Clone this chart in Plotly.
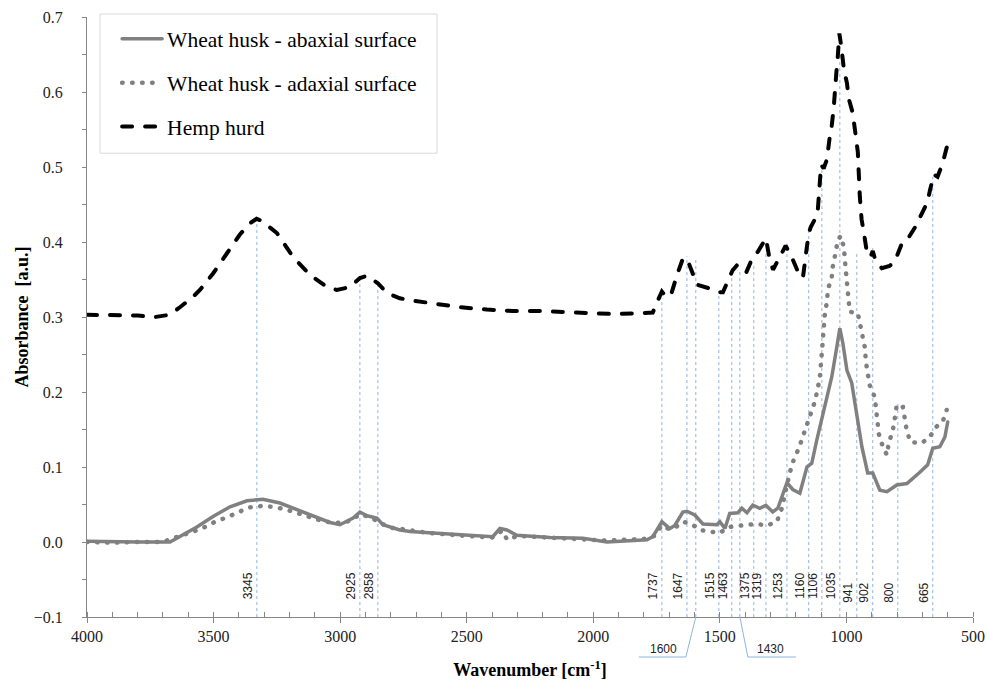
import plotly.graph_objects as go

# ---------------- data ----------------
hemp_wn = [4000, 3900, 3800, 3731, 3672, 3633, 3581, 3554, 3502, 3447, 3396, 3356, 3330, 3309,
           3250, 3186, 3119, 3052, 3013, 2961, 2922, 2894, 2851, 2815, 2764, 2736, 2634, 2527,
           2420, 2317, 2211, 2132, 2041, 1923, 1816, 1777, 1765, 1745, 1729, 1710, 1690, 1670,
           1646, 1630, 1610, 1590, 1540, 1500, 1488, 1468, 1450, 1430, 1410, 1395, 1370, 1350,
           1318, 1305, 1290, 1265, 1240, 1215, 1195, 1172, 1160, 1150, 1141, 1125, 1113, 1100,
           1090, 1077, 1066, 1058, 1050, 1046, 1040, 1034, 1028, 1020, 1010, 998, 990, 975, 965,
           955, 947, 940, 930, 920, 905, 896, 885, 860, 830, 810, 780, 760, 730, 710, 680, 670,
           655, 640, 620, 603]
hemp_ab = [0.303, 0.303, 0.302, 0.300, 0.303, 0.313, 0.327, 0.336, 0.358, 0.385, 0.410, 0.425, 0.431, 0.428,
           0.412, 0.380, 0.356, 0.340, 0.336, 0.340, 0.352, 0.355, 0.345, 0.332, 0.325, 0.323, 0.318, 0.313,
           0.310, 0.308, 0.308, 0.307, 0.305, 0.304, 0.305, 0.305, 0.306, 0.322, 0.334, 0.326, 0.333, 0.355,
           0.378, 0.378, 0.360, 0.343, 0.338, 0.333, 0.333, 0.347, 0.362, 0.370, 0.365, 0.360, 0.380, 0.387,
           0.405, 0.380, 0.363, 0.380, 0.395, 0.379, 0.363, 0.352, 0.390, 0.410, 0.420, 0.430, 0.443, 0.503,
           0.498, 0.510, 0.540, 0.555, 0.580, 0.607, 0.625, 0.648, 0.678, 0.660, 0.630, 0.612, 0.590, 0.572, 0.545,
           0.520, 0.460, 0.430, 0.410, 0.388, 0.380, 0.388, 0.375, 0.365, 0.368, 0.373, 0.399, 0.403, 0.419, 0.433,
           0.453, 0.469, 0.490, 0.487, 0.505, 0.527]

abax_wn = [4000, 3900, 3800, 3672, 3633, 3566, 3502, 3435, 3368, 3305, 3238, 3171, 3107, 3040, 3001,
           2949, 2922, 2894, 2855, 2831, 2764, 2724, 2634, 2500, 2397, 2369, 2341, 2302, 2171, 2041,
           1946, 1788, 1765, 1729, 1698, 1678, 1646, 1630, 1599, 1567, 1512, 1500, 1480, 1461, 1429,
           1413, 1393, 1370, 1342, 1318, 1291, 1271, 1235, 1212, 1184, 1156, 1137, 1117, 1097, 1077,
           1058, 1038, 1026, 1014, 998, 979, 959, 939, 916, 896, 868, 840, 801, 761, 710, 679, 659,
           631, 611, 600]
abax_ab = [0.001, 0.000, 0.000, 0.000, 0.007, 0.020, 0.034, 0.047, 0.055, 0.057, 0.052, 0.043, 0.034, 0.026, 0.023,
           0.032, 0.040, 0.035, 0.032, 0.023, 0.016, 0.014, 0.012, 0.009, 0.007, 0.018, 0.016, 0.009, 0.006, 0.005,
           0.000, 0.003, 0.007, 0.027, 0.018, 0.022, 0.040, 0.041, 0.036, 0.024, 0.023, 0.027, 0.018, 0.038, 0.039,
           0.045, 0.039, 0.049, 0.045, 0.049, 0.040, 0.045, 0.079, 0.070, 0.065, 0.100, 0.105, 0.136, 0.163, 0.190,
           0.220, 0.260, 0.285, 0.265, 0.229, 0.212, 0.172, 0.127, 0.092, 0.092, 0.069, 0.067, 0.076, 0.078, 0.093,
           0.103, 0.125, 0.127, 0.140, 0.160]

adax_wn = [4000, 3900, 3800, 3700, 3660, 3620, 3580, 3540, 3500, 3440, 3400, 3360, 3310, 3270, 3220,
           3150, 3070, 3020, 2960, 2922, 2880, 2840, 2800, 2750, 2650, 2500, 2400, 2360, 2340, 2300,
           2200, 2050, 1950, 1800, 1760, 1729, 1700, 1678, 1646, 1611, 1579, 1540, 1500, 1465, 1425,
           1389, 1354, 1314, 1275, 1255, 1224, 1208, 1188, 1172, 1156, 1137, 1125, 1113, 1105, 1097,
           1093, 1085, 1077, 1073, 1058, 1054, 1042, 1034, 1022, 1010, 1006, 1002, 998, 995, 987, 955,
           947, 935, 927, 923, 916, 908, 888, 884, 880, 872, 856, 840, 833, 817, 809, 801, 777, 769,
           761, 746, 702, 671, 647, 619, 604]
adax_ab = [0.000, -0.001, 0.000, 0.000, 0.005, 0.009, 0.014, 0.019, 0.026, 0.034, 0.040, 0.046, 0.048, 0.047, 0.044,
           0.036, 0.028, 0.025, 0.028, 0.037, 0.033, 0.025, 0.019, 0.017, 0.012, 0.008, 0.006, 0.015, 0.003, 0.008,
           0.006, 0.004, 0.002, 0.004, 0.008, 0.022, 0.017, 0.019, 0.027, 0.024, 0.016, 0.014, 0.012, 0.020, 0.022,
           0.023, 0.024, 0.022, 0.027, 0.045, 0.092, 0.110, 0.125, 0.140, 0.156, 0.172, 0.187, 0.205, 0.220, 0.253,
           0.280, 0.305, 0.320, 0.337, 0.353, 0.367, 0.387, 0.403, 0.408, 0.393, 0.375, 0.358, 0.340, 0.324, 0.307, 0.305,
           0.290, 0.274, 0.259, 0.240, 0.224, 0.209, 0.193, 0.177, 0.160, 0.144, 0.127, 0.116, 0.132, 0.148, 0.165, 0.183, 0.180, 0.164,
           0.147, 0.133, 0.132, 0.140, 0.153, 0.161, 0.176]

# band marker lines: position as drawn, label text, top of line (absorbance)
band_pos = [3329, 2922, 2851, 1729, 1630, 1595, 1504, 1453, 1421, 1366, 1318, 1235, 1149, 1097, 1026, 959, 896, 797, 659]
band_lbl = ["3345", "2925", "2858", "1737", "1647", "1600", "1515", "1463", "1430", "1375", "1319", "1253",
            "1160", "1106", "1035", "941", "902", "800", "665"]
band_top = [0.427, 0.353, 0.345, 0.325, 0.381, 0.377, 0.333, 0.365, 0.361, 0.372, 0.389, 0.398, 0.42,
            0.496, 0.652, 0.387, 0.392, 0.185, 0.487]

# ---------------- styling ----------------
SERIF = "Liberation Serif"
GRAY = "#808080"
AXIS = "#868686"
BLUE = "#8EB4E3"
below_axis = {"1600": "left", "1430": "right"}   # labels placed under the axis with leaders
lowered = {"941", "902", "800", "665"}

fig = go.Figure()
fig.add_trace(go.Scatter(x=abax_wn, y=abax_ab, mode="lines", name="Wheat husk - abaxial surface",
                         line=dict(color=GRAY, width=3.5), legendgroup="a"))
fig.add_trace(go.Scatter(x=adax_wn, y=adax_ab, mode="lines", name="Wheat husk - adaxial surface",
                         line=dict(color=GRAY, width=4.5, dash="0.5px,9.5px"), legendgroup="b"))
fig.add_trace(go.Scatter(x=hemp_wn, y=hemp_ab, mode="lines", name="Hemp hurd",
                         line=dict(color="black", width=4, dash="10px,13px"), legendgroup="c"))

for pos, lbl, top in zip(band_pos, band_lbl, band_top):
    fig.add_shape(type="line", x0=pos, x1=pos, y0=-0.1, y1=top, xref="x", yref="y",
                  line=dict(color=BLUE, width=1, dash="dot"), layer="below")
    if lbl in below_axis:
        if below_axis[lbl] == "left":
            path = "M0,0 L-10,-40 L-57,-40"
            tx = -32
        else:
            path = "M0,0 L8,-40 L56,-40"
            tx = 31
        fig.add_shape(type="path", xsizemode="pixel", ysizemode="pixel", xanchor=pos, yanchor=0,
                      xref="x", yref="paper", path=path, layer="above",
                      line=dict(color=BLUE, width=1))
        fig.add_annotation(x=pos, y=0, xref="x", yref="paper", text=lbl, showarrow=False,
                           xshift=tx, yshift=-32, xanchor="center", yanchor="middle",
                           font=dict(family="Liberation Sans", size=12, color="#222"))
    else:
        fig.add_annotation(x=pos, y=-0.1, xref="x", yref="y", text=lbl, showarrow=False,
                           textangle=-90, xanchor="right", yanchor="bottom",
                           xshift=0, yshift=(12 if lbl in lowered else 16),
                           font=dict(family="Liberation Sans", size=12, color="#222"))

# legend frame (drawn as a rectangle in paper space)
fig.add_shape(type="rect", xref="paper", yref="paper", x0=0.0147, x1=0.395, y0=0.773, y1=1.005,
              line=dict(color="#D9D9D9", width=1), fillcolor="white", layer="below")

fig.update_layout(
    width=987, height=686,
    margin=dict(l=87, r=14, t=17, b=69, autoexpand=False),
    plot_bgcolor="white", paper_bgcolor="white",
    showlegend=True,
    legend=dict(x=0.034, y=0.998, xanchor="left", yanchor="top",
                borderwidth=0, bgcolor="rgba(0,0,0,0)",
                font=dict(family=SERIF, size=21.5, color="black"),
                tracegroupgap=13, itemwidth=40),
    font=dict(family=SERIF, color="black"),
)
fig.update_xaxes(range=[4000, 500], autorange=False, tick0=0, dtick=500, automargin=False,
                 showline=True, linecolor=AXIS, linewidth=1, showgrid=False, zeroline=False,
                 ticks="outside", ticklen=5, tickcolor=AXIS,
                 minor=dict(dtick=100, ticks="inside", ticklen=5, tickcolor=AXIS),
                 tickfont=dict(family=SERIF, size=16, color="#222"),
                 title=dict(text="<b>Wavenumber [cm<sup>-1</sup>]</b>", standoff=19,
                            font=dict(family=SERIF, size=18, color="black")))
fig.update_yaxes(range=[-0.1, 0.7], autorange=False, tick0=0, dtick=0.1, tickformat=".1f", automargin=False,
                 showline=True, linecolor=AXIS, linewidth=1, showgrid=False, zeroline=False,
                 ticks="outside", ticklen=4, tickcolor=AXIS,
                 minor=dict(dtick=0.05, ticks="outside", ticklen=4, tickcolor=AXIS),
                 tickfont=dict(family=SERIF, size=16, color="#222"), ticklabelstandoff=16,
                 title=dict(text="<b>Absorbance  [a.u.]</b>", standoff=0,
                            font=dict(family=SERIF, size=18, color="black")))

post = """
var gd = document.getElementById('{plot_id}');
function roundCaps(){
  gd.querySelectorAll('path.js-line').forEach(function(p){ p.style.strokeLinecap = 'round'; });
}
roundCaps();
gd.on('plotly_afterplot', roundCaps);
"""
fig.write_html("out.html", post_script=post)
